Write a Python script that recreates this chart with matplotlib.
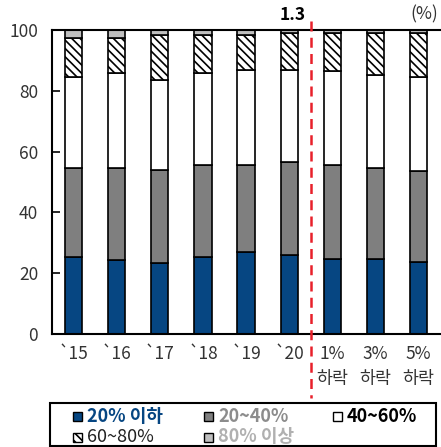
import matplotlib
matplotlib.use("Agg")
import matplotlib.pyplot as plt
import matplotlib.transforms as mtransforms
from matplotlib.patches import Rectangle
import numpy as np

plt.rcParams['font.family'] = ['Noto Sans CJK KR', 'DejaVu Sans']
plt.rcParams['hatch.linewidth'] = 1.2

categories = ["`15", "`16", "`17", "`18", "`19", "`20", "1%\n하락", "3%\n하락", "5%\n하락"]
series_names = ["20% 이하", "20~40%", "40~60%", "60~80%", "80% 이상"]
le20 = [25.4, 24.3, 23.3, 25.4, 27.1, 26.0, 24.8, 24.8, 23.8]
r20_40 = [29.1, 30.2, 30.6, 30.3, 28.6, 30.6, 30.9, 29.7, 29.9]
r40_60 = [29.9, 31.4, 29.7, 30.2, 31.1, 30.2, 30.7, 30.6, 30.7]
r60_80 = [12.9, 11.4, 14.8, 12.5, 11.7, 12.1, 12.5, 13.8, 14.5]
ge80 = [2.7, 2.7, 1.6, 1.6, 1.5, 1.1, 1.1, 1.1, 1.1]
marker_label = "1.3"
yticks = [0, 20, 40, 60, 80, 100]

series = [le20, r20_40, r40_60, r60_80, ge80]
fills = ["#064682", "#7f7f7f", "#ffffff", "#ffffff", "#bfbfbf"]
hatches = [None, None, None, "\\\\\\\\", None]
text_colors = ["#064682", "#8c8c8c", "#000000", "#222222", "#b0b0b0"]
text_weights = ["bold", "bold", "bold", "normal", "bold"]

FS = 12.5
LFS = 13
W, H = 441, 447

fig = plt.figure(figsize=(W / 100, H / 100), dpi=100)
ax = fig.add_axes([0.118, 0.253, 0.880, 0.680])

x = np.arange(len(categories))
bottom = np.zeros(len(categories))
for vals, fc, h in zip(series, fills, hatches):
    ax.bar(x, vals, width=0.4, bottom=bottom, color=fc, edgecolor="black",
           linewidth=1.2, hatch=h, zorder=2)
    bottom += np.array(vals)

ax.set_xlim(-0.5, 8.5)
ax.set_ylim(0, 100)
ax.set_yticks(yticks)
ax.set_xticks(x)
ax.set_xticklabels(categories, linespacing=1.5)
ax.tick_params(axis='y', direction='in', length=6, width=1.2, pad=10,
               labelsize=FS, labelcolor="#333333")
ax.tick_params(axis='x', length=0, pad=8, labelsize=FS, labelcolor="#333333")

for s in ["left", "bottom", "top"]:
    ax.spines[s].set_linewidth(1.5)
    ax.spines[s].set_color("black")
ax.spines["right"].set_visible(False)

# dashed divider between actual years and scenarios
trans = mtransforms.blended_transform_factory(ax.transData, ax.transAxes)
ax.plot([5.5, 5.5], [1.03, -0.21], transform=trans, color="#e8202a",
        linestyle=(0, (4, 2.5)), linewidth=1.8, clip_on=False, zorder=5)
ax.text(5.07, 1.05, marker_label, transform=trans, ha="center", va="center",
        fontsize=FS, fontweight="bold", color="black")
ax.text(0.995, 1.05, "(%)", transform=ax.transAxes, ha="right", va="center",
        fontsize=FS, color="#333333")

# legend box, laid out row by row (pixel positions converted to figure fraction)
def fx(px):
    return px / W

def fy(py):
    return 1 - py / H

fig.patches.append(Rectangle((fx(50), fy(446)), fx(436) - fx(50), fy(403) - fy(446),
                             transform=fig.transFigure, facecolor="none",
                             edgecolor="black", linewidth=1.5))
col_x = [73, 204, 333]
row_y = [416, 437]
msize = 9
for i, name in enumerate(series_names):
    r, c = divmod(i, 3)
    mx, my = col_x[c], row_y[r]
    fig.patches.append(Rectangle((fx(mx), fy(my + msize / 2)), fx(msize), msize / H,
                                 transform=fig.transFigure, facecolor=fills[i],
                                 edgecolor="black", linewidth=1.0,
                                 hatch=hatches[i]))
    fig.text(fx(mx + msize + 5), fy(my), name, ha="left", va="center",
             fontsize=LFS, color=text_colors[i], fontweight=text_weights[i])

fig.savefig("out.png", dpi=100)
